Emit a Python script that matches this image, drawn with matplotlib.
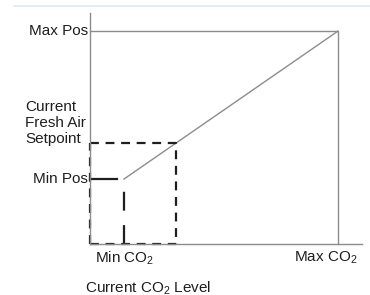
import matplotlib
matplotlib.use("Agg")
import matplotlib.pyplot as plt

plt.rcParams['font.family'] = ['Liberation Sans', 'DejaVu Sans']
plt.rcParams['mathtext.default'] = 'regular'

# control curve: fresh-air damper position vs CO2 level (percent of span)
co2_pts = [13.7, 100.0]          # Min CO2, Max CO2
pos_pts = [30.5, 100.0]          # Min Pos, Max Pos
current_co2 = 34.7
current_pos = 47.4
x_labels = ['Min CO$_2$', 'Max CO$_2$']
y_labels = ['Min Pos', 'Max Pos']
setpoint_label = 'Current\nFresh Air\nSetpoint'
x_title = 'Current CO$_2$ Level'

fig = plt.figure(figsize=(3.7, 2.95), dpi=100)
fig.add_artist(plt.Line2D([14 / 370, 1.0], [289 / 295, 289 / 295], color='#dce9f7', lw=1.2))

ax = fig.add_axes([90 / 370, 51 / 295, 272 / 370, 231 / 295])
ax.set_xlim(0, 109.7)
ax.set_ylim(0, 108.5)
for s in ['top', 'right']:
    ax.spines[s].set_visible(False)
for s in ['left', 'bottom']:
    ax.spines[s].set_color('#8c8c8c')
    ax.spines[s].set_linewidth(1.0)
ax.set_xticks([])
ax.set_yticks([])

gray = '#8c8c8c'
ink = '#1e1e1e'
# max limit lines and ramp
ax.plot([0, co2_pts[1], co2_pts[1]], [pos_pts[1], pos_pts[1], 0], color=gray, lw=1.0, clip_on=False)
ax.plot(co2_pts, pos_pts, color=gray, lw=1.0)

# dashed box for current point
dash = (0, (4, 3))
ax.plot([0, current_co2, current_co2], [current_pos, current_pos, 0], color=ink,
        lw=1.6, ls=dash, clip_on=False)
ax.plot([0, current_co2], [0, 0], color=ink, lw=1.6, ls=dash, clip_on=False)
ax.plot([0, 0], [0, current_pos], color=ink, lw=1.6, ls=dash, clip_on=False)

# min markers
ax.plot([0, co2_pts[0] - 3], [pos_pts[0], pos_pts[0]], color=ink, lw=1.6, clip_on=False)
ax.plot([co2_pts[0], co2_pts[0]], [0, pos_pts[0] - 1.5], color=ink, lw=1.6,
        ls=(0, (8.5, 6.5)), clip_on=False)

fs = 11
ax.text(-0.8, pos_pts[1], y_labels[1], ha='right', va='center', fontsize=fs, color=ink)
ax.text(-0.8, pos_pts[0], y_labels[0], ha='right', va='center', fontsize=fs, color=ink)
ax.text(-26.2, 67.8, setpoint_label, ha='left', va='top', fontsize=fs,
        color=ink, linespacing=1.2)
ax.text(2, -2.5, x_labels[0], ha='left', va='top', fontsize=fs, color=ink)
ax.text(108, -2.5, x_labels[1], ha='right', va='top', fontsize=fs, color=ink)
ax.text(-2, -16.5, x_title, ha='left', va='top', fontsize=fs, color=ink)

fig.savefig('out.png', dpi=100)
